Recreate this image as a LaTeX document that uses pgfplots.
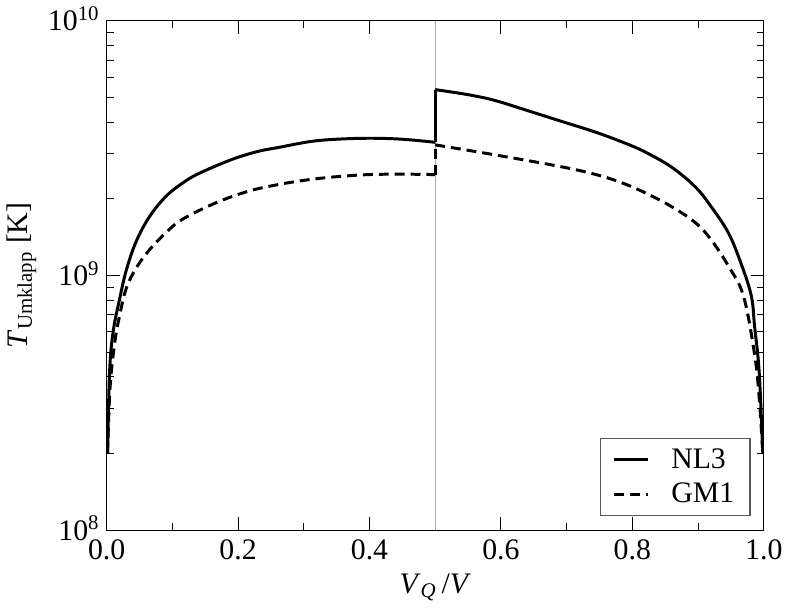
\documentclass[border=0pt]{standalone}
\usepackage{pgfplots}
\pgfplotsset{compat=1.18}
\usepackage{fontspec}
\setmainfont{Liberation Serif}
\newcommand{\chartfont}{\fontsize{15}{18}\selectfont}
\begin{document}
\begin{tikzpicture}
\begin{axis}[
  scale only axis,
  width=331pt,height=256.5pt,
  xmin=0,xmax=1,ymin=1e8,ymax=1e10,
  ymode=log,
  xtick={0,0.2,0.4,0.6,0.8,1.0},
  minor xtick={0.1,0.3,0.5,0.7,0.9},
  ytick={1e8,1e9,1e10},
  yticklabels={10\textsuperscript{8},10\textsuperscript{9},10\textsuperscript{10}},
  xticklabel style={yshift=-1.5pt,/pgf/number format/.cd,fixed,fixed zerofill,precision=1,assume math mode=true},
  yticklabel style={yshift=1pt},
  tick align=inside,
  major tick length=6.5pt,minor tick length=3.5pt,
  tick style={black,line width=0.5pt},
  axis line style={line width=0.6pt},
  tick label style={font=\chartfont},
  label style={font=\chartfont},
  xlabel={\textit{V}\textsubscript{\textit{Q}}\,/\textit{V}},
  ylabel={\textit{T}\textsubscript{Umklapp} [K]},
  ylabel style={yshift=-1pt},
  legend style={at={(0.98,0.027)},anchor=south east,font=\chartfont,
    draw=black!65,line width=0.6pt,inner xsep=6pt,inner ysep=3pt,row sep=2pt},
  legend style={/tikz/every odd column/.append style={column sep=9pt}},
  legend cell align=left,
]
  \draw[gray!70,line width=0.5pt] (axis cs:0.5,1e8) -- (axis cs:0.5,1e10);
  % NL3
  \addplot[black,line width=1.5pt,smooth,tension=0.6] coordinates {
    (0.0015,2.00e8) (0.0045,4.17e8) (0.01,6.03e8) (0.02,8.13e8) (0.03,1.05e9)
    (0.045,1.36e9) (0.065,1.698e9) (0.09,2.042e9) (0.115,2.30e9) (0.14,2.512e9)
    (0.19,2.851e9) (0.23,3.069e9) (0.26,3.177e9) (0.31,3.357e9) (0.35,3.428e9)
    (0.40,3.459e9) (0.45,3.428e9) (0.50,3.334e9)
  };
  \addlegendentry{NL3}
  \addplot[black,line width=1.5pt,forget plot] coordinates {(0.50,3.334e9) (0.50,5.370e9)};
  \addplot[black,line width=1.5pt,smooth,tension=0.6,forget plot] coordinates {
    (0.50,5.370e9) (0.55,5.129e9) (0.59,4.875e9) (0.64,4.446e9) (0.69,4.046e9)
    (0.745,3.648e9) (0.79,3.300e9) (0.82,3.050e9) (0.86,2.660e9) (0.896,2.225e9)
    (0.92,1.862e9) (0.946,1.472e9) (0.965,1.122e9) (0.981,8.32e8) (0.986,6.31e8)
    (0.993,4.17e8) (0.9985,2.00e8)
  };
  % GM1
  \addplot[black,line width=1.5pt,dash pattern=on 5pt off 3pt,smooth,tension=0.6] coordinates {
    (0.0015,2.00e8) (0.005,3.55e8) (0.012,5.37e8) (0.02,7.0e8) (0.03,8.91e8)
    (0.045,1.07e9) (0.065,1.259e9) (0.09,1.47e9) (0.115,1.660e9) (0.166,1.928e9)
    (0.216,2.143e9) (0.261,2.275e9) (0.307,2.377e9) (0.35,2.443e9) (0.397,2.489e9)
    (0.45,2.500e9) (0.50,2.489e9)
  };
  \addlegendentry{GM1}
  \addplot[black,line width=1.5pt,dash pattern=on 5pt off 3pt,forget plot] coordinates {(0.50,2.489e9) (0.50,3.258e9)};
  \addplot[black,line width=1.5pt,dash pattern=on 5pt off 3pt,smooth,tension=0.6,forget plot] coordinates {
    (0.50,3.258e9) (0.59,2.979e9) (0.69,2.679e9) (0.745,2.489e9) (0.785,2.307e9)
    (0.82,2.109e9) (0.86,1.862e9) (0.896,1.611e9) (0.92,1.380e9) (0.946,1.091e9)
    (0.969,8.32e8) (0.986,4.90e8) (0.993,3.31e8) (0.9985,2.00e8)
  };
\end{axis}
\end{tikzpicture}
\end{document}
